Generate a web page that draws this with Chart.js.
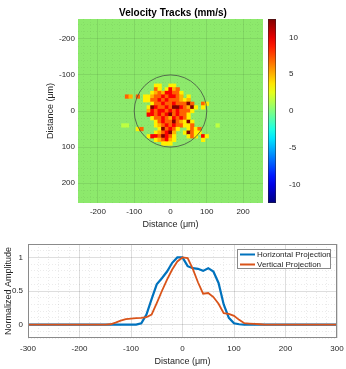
<!DOCTYPE html>
<html>
<head>
<meta charset="utf-8">
<script src="https://cdn.jsdelivr.net/npm/chart.js@4.4.1/dist/chart.umd.min.js"></script>
<style>
  body { margin: 0; background: #fff; }
  canvas { display: block; }
</style>
</head>
<body>
<canvas id="heatChart" width="346" height="232"></canvas>
<canvas id="projChart" width="346" height="137"></canvas>
<script>
// heat map cells (um) and velocities (mm/s)
const cellXs = [-130, -120, -110, -100, -90, -80, -70, -60, -50, -40, -30, -20, -10, 0, 10, 20, 30, 40, 50, 60, 70, 80, 90, 100, 110, 120, 130];
const cellYs = [-70, -60, -50, -40, -30, -20, -10, 0, 10, 20, 30, 40, 50, 60, 70, 80, 90];
const velocityRows = [
    [0,0,0,0,0,0,0,0,0,3.5,3.5,0,0,3.5,3.5,0,0,0,0,0,0,0,0,0,0,0,0],
    [0,0,0,0,0,0,0,0,0,7,3.5,0,3.5,9.5,5,7,0,0,0,0,0,0,0,0,0,0,0],
    [0,0,0,0,0,0,0,0,3.5,5,7,5,9.5,9.5,7,7,3.5,0,0,0,0,0,0,0,0,0,0],
    [0,7,5,0,7,0,3.5,3.5,5,7,7,9.5,7,9.5,9.5,7,5,0,3.5,0,0,0,0,0,0,0,0],
    [0,0,0,0,0,0,3.5,3.5,7,7,9.5,7,9.5,7,7,7,5,3.5,5,0,0,0,0,0,0,0,0],
    [0,0,0,0,0,0,0,0,3.5,7,7,9.5,7,7,9.5,7,7,7,12.5,7,0,0,7,3.5,0,0,0],
    [0,0,0,0,0,0,0,3.5,12.5,9.5,7,7,9.5,7,12.5,12.5,9.5,7,5,12.5,3.5,0,3.5,0,0,0,0],
    [0,0,0,0,0,0,0,5,9.5,7,9.5,9.5,7,9.5,7,9.5,7,7,7,3.5,0,0,0,0,0,0,0],
    [0,0,0,0,0,0,0,9.5,9.5,7,9.5,7,9.5,12.5,7,9.5,7,7,3.5,0,0,0,0,0,0,0,0],
    [0,0,0,0,0,0,0,0,3.5,7,7,9.5,7,5,9.5,7,9.5,7,3.5,0,0,0,0,0,0,0,0],
    [0,0,0,0,0,0,0,0,0,3.5,7,9.5,7,7,12.5,7,5,3.5,12.5,3.5,0,0,0,0,0,0,0],
    [1.5,1.5,0,0,0,0,0,0,0,3.5,5,7,9.5,7,9.5,7,7,3.5,3.5,7,0,0,0,0,0,0,1.5],
    [0,0,0,0,3.5,7,0,0,0,0,3.5,12.5,7,9.5,7,3.5,0,0,3.5,7,3.5,7,0,0,0,0,0],
    [0,0,0,0,0,0,0,0,0,3.5,5,7,9.5,12.5,5,0,0,3.5,12.5,7,3.5,3.5,0,0,0,0,0],
    [0,0,0,0,0,0,0,3.5,9.5,9.5,7,12.5,9.5,7,3.5,0,0,0,3.5,7,3.5,0,9.5,3.5,0,0,0],
    [0,0,0,0,0,0,0,0,0,3.5,5,7,9.5,5,3.5,0,0,0,0,0,0,0,3.5,0,0,0,0],
    [0,0,0,0,0,0,0,0,0,0,0,3.5,3.5,3.5,0,0,0,0,0,0,0,0,0,0,0,0,0]
];
const cellSize = 10;
const circleRadius = 100;
const colorMin = -12.5;
const colorMax = 12.5;
const colorTicks = [-10, -5, 0, 5, 10];

// projections
const projX = [-300, -290, -280, -270, -260, -250, -240, -230, -220, -210, -200, -190, -180, -170, -160, -150, -140, -130, -120, -110, -100, -90, -80, -70, -60, -50, -40, -30, -20, -10, 0, 10, 20, 30, 40, 50, 60, 70, 80, 90, 100, 110, 120, 130, 140, 150, 160, 170, 180, 190, 200, 210, 220, 230, 240, 250, 260, 270, 280, 290, 300];
const horizProj = [0,0,0,0,0,0,0,0,0,0,0,0,0,0,0,0,0,0,0,0,0,0, 0.02,0.15,0.38,0.6,0.69,0.79,0.92,1.0,1.0,0.87,0.84,0.83,0.8,0.84,0.79,0.62,0.3,0.1,0.02,0.005, 0,0,0,0,0,0,0,0,0,0,0,0,0,0,0,0,0,0,0];
const vertProj = [0,0,0,0,0,0,0,0,0,0,0,0,0,0,0,0, 0.005,0.03,0.06,0.08,0.09,0.095,0.1,0.11,0.15,0.32,0.5,0.67,0.82,0.94,1.0,0.99,0.83,0.63,0.46,0.47,0.41,0.31,0.17,0.16,0.13,0.07,0.02,0.015,0.01,0.005, 0,0,0,0,0,0,0,0,0,0,0,0,0,0,0];

Chart.defaults.font.family = "'Liberation Sans', Arial, sans-serif";
Chart.defaults.color = '#262626';

const heatBackground = 'rgb(141,233,108)';
const heatGridMajor = 'rgba(0,0,0,0.08)';
const heatGridMinor = 'rgba(0,0,0,0.05)';
const gridMajor = 'rgba(0,0,0,0.13)';
const gridMinor = 'rgba(0,0,0,0.08)';

function jet(t) {
    const f = k => Math.round(255 * Math.max(0, Math.min(1, 1.5 - Math.abs(4 * t - k))));
    return `rgb(${f(3)},${f(2)},${f(1)})`;
}

function colorOf(v) {
    return jet((v - colorMin) / (colorMax - colorMin));
}

const cells = [];
cellYs.forEach((y, r) => {
    cellXs.forEach((x, c) => {
        const v = velocityRows[r][c];
        if (v !== 0) cells.push({ x: x, y: y, v: v });
    });
});

const isMajor = (ctx, step) => ctx.tick && Math.round(ctx.tick.value) % step === 0;
const noOverflow = s => { s.paddingLeft = 0; s.paddingRight = 0; s.paddingTop = 0; s.paddingBottom = 0; };

const heatDecor = {
    id: 'heatDecor',
    beforeDraw(chart) {
        const a = chart.chartArea;
        const ctx = chart.ctx;
        ctx.save();
        ctx.fillStyle = heatBackground;
        ctx.fillRect(a.left, a.top, a.right - a.left, a.bottom - a.top);
        ctx.restore();
    },
    afterDatasetsDraw(chart) {
        const xs = chart.scales.x, ys = chart.scales.y;
        const cx = xs.getPixelForValue(0), cy = ys.getPixelForValue(0);
        const rx = Math.abs(xs.getPixelForValue(circleRadius) - cx);
        const ry = Math.abs(ys.getPixelForValue(circleRadius) - cy);
        const ctx = chart.ctx;
        ctx.save();
        ctx.strokeStyle = 'rgba(70,80,70,0.8)';
        ctx.lineWidth = 1;
        ctx.beginPath();
        ctx.ellipse(cx, cy, rx, ry, 0, 0, Math.PI * 2);
        ctx.stroke();
        ctx.restore();
    },
    afterDraw(chart) {
        // colour bar
        const cb = chart.scales.cb;
        const a = chart.chartArea;
        const top = cb.getPixelForValue(colorMax), bottom = cb.getPixelForValue(colorMin);
        const left = a.right + 5, w = 8;
        const ctx = chart.ctx;
        const grad = ctx.createLinearGradient(0, bottom, 0, top);
        for (let i = 0; i <= 20; i++) grad.addColorStop(i / 20, jet(i / 20));
        ctx.save();
        ctx.fillStyle = grad;
        ctx.fillRect(left, top, w, bottom - top);
        ctx.strokeStyle = 'rgba(38,38,38,0.5)';
        ctx.lineWidth = 1;
        ctx.strokeRect(left + 0.5, top + 0.5, w - 1, bottom - top - 1);
        ctx.restore();
    }
};

new Chart(document.getElementById('heatChart'), {
    type: 'scatter',
    data: {
        datasets: [{
            data: cells,
            pointStyle: 'rect',
            borderWidth: 0,
            pointRadius: ctx => {
                const xs = ctx.chart.scales.x;
                const side = Math.abs(xs.getPixelForValue(cellSize) - xs.getPixelForValue(0));
                return (side + 0.6) / Math.SQRT2;
            },
            backgroundColor: ctx => colorOf(ctx.raw.v)
        }]
    },
    options: {
        responsive: false,
        animation: false,
        events: [],
        plugins: {
            legend: { display: false },
            tooltip: { enabled: false },
            title: {
                display: true,
                text: 'Velocity Tracks (mm/s)',
                color: '#000',
                font: { size: 10, weight: 'bold' },
                padding: { top: 7, bottom: 0 }
            }
        },
        scales: {
            x: {
                type: 'linear', min: -255, max: 255,
                afterFit: s => { s.height = 29; noOverflow(s); },
                ticks: { stepSize: 20, includeBounds: false, autoSkip: false, maxRotation: 0, padding: 4, font: { size: 8 },
                    callback: v => Math.round(v) % 100 === 0 ? String(v) : '' },
                grid: { drawTicks: false, color: ctx => isMajor(ctx, 100) ? heatGridMajor : heatGridMinor },
                border: { display: false, dash: ctx => isMajor(ctx, 100) ? [] : [1, 2] },
                title: { display: true, text: 'Distance (μm)', font: { size: 9 }, padding: { top: 0, bottom: 2 } }
            },
            y: {
                type: 'linear', min: -255, max: 255, reverse: true,
                afterFit: s => { s.width = 78; noOverflow(s); },
                ticks: { stepSize: 20, includeBounds: false, autoSkip: false, padding: 3, font: { size: 8 },
                    callback: v => Math.round(v) % 100 === 0 ? String(v) : '' },
                grid: { drawTicks: false, color: ctx => isMajor(ctx, 100) ? heatGridMajor : heatGridMinor },
                border: { display: false, dash: ctx => isMajor(ctx, 100) ? [] : [1, 2] },
                title: { display: true, text: 'Distance (μm)', font: { size: 9 }, padding: { top: 45, bottom: 0 } }
            },
            cb: {
                type: 'linear', position: 'right', min: colorMin, max: colorMax,
                afterBuildTicks: s => { s.ticks = colorTicks.map(v => ({ value: v })); },
                afterFit: s => { s.width = 83; noOverflow(s); },
                ticks: { padding: 18, font: { size: 8 } },
                grid: { display: false },
                border: { display: false }
            }
        }
    },
    plugins: [heatDecor]
});

const projDecor = {
    id: 'projDecor',
    afterDraw(chart) {
        const a = chart.chartArea;
        const ctx = chart.ctx;
        ctx.save();
        ctx.strokeStyle = '#8a8a8a';
        ctx.lineWidth = 1;
        ctx.strokeRect(a.left + 0.5, a.top + 0.5, a.right - a.left - 1, a.bottom - a.top - 1);

        // legend box inside the axes
        const bw = 94, bh = 20;
        const bx = a.right - 6 - bw, by = a.top + 5;
        ctx.fillStyle = '#fff';
        ctx.fillRect(bx, by, bw, bh);
        ctx.strokeRect(bx + 0.5, by + 0.5, bw - 1, bh - 1);
        ctx.font = "8px 'Liberation Sans', Arial, sans-serif";
        ctx.textBaseline = 'middle';
        chart.data.datasets.forEach((ds, i) => {
            const y = by + 5.5 + i * 10;
            ctx.strokeStyle = ds.borderColor;
            ctx.lineWidth = 2;
            ctx.beginPath();
            ctx.moveTo(bx + 3, y);
            ctx.lineTo(bx + 18, y);
            ctx.stroke();
            ctx.fillStyle = '#262626';
            ctx.fillText(ds.label, bx + 20, y);
        });
        ctx.restore();
    }
};

new Chart(document.getElementById('projChart'), {
    type: 'line',
    data: {
        datasets: [{
            label: 'Horizontal Projection',
            data: projX.map((x, i) => ({ x: x, y: horizProj[i] })),
            borderColor: '#0072BD',
            borderWidth: 2.2,
            pointRadius: 0,
            order: 1
        }, {
            label: 'Vertical Projection',
            data: projX.map((x, i) => ({ x: x, y: vertProj[i] })),
            borderColor: '#D95319',
            borderWidth: 1.8,
            pointRadius: 0,
            order: 0
        }]
    },
    options: {
        responsive: false,
        animation: false,
        events: [],
        layout: { padding: { top: 12, right: 9 } },
        plugins: {
            legend: { display: false },
            tooltip: { enabled: false }
        },
        scales: {
            x: {
                type: 'linear', min: -300, max: 300,
                afterFit: s => { s.height = 31; noOverflow(s); },
                ticks: { stepSize: 20, autoSkip: false, maxRotation: 0, padding: 6, font: { size: 8 },
                    callback: v => Math.round(v) % 100 === 0 ? String(v) : '' },
                grid: { drawTicks: false, color: ctx => isMajor(ctx, 100) ? gridMajor : gridMinor },
                border: { display: false, dash: ctx => isMajor(ctx, 100) ? [] : [1, 2] },
                title: { display: true, text: 'Distance (μm)', font: { size: 9 }, padding: { top: 0, bottom: 2 } }
            },
            y: {
                type: 'linear', min: -0.2, max: 1.2,
                afterFit: s => { s.width = 28; noOverflow(s); },
                ticks: { stepSize: 0.1, autoSkip: false, padding: 5, font: { size: 8 },
                    callback: v => { const k = Math.round(v * 10); return k >= 0 && k % 5 === 0 ? String(k / 10) : ''; } },
                grid: { drawTicks: false, color: ctx => ctx.tick && Math.round(ctx.tick.value * 10) % 5 === 0 ? gridMajor : gridMinor },
                border: { display: false, dash: ctx => ctx.tick && Math.round(ctx.tick.value * 10) % 5 === 0 ? [] : [1, 2] },
                title: { display: true, text: 'Normalized Amplitude', font: { size: 9 }, padding: { top: 3, bottom: 0 } }
            }
        }
    },
    plugins: [projDecor]
});
</script>
</body>
</html>
